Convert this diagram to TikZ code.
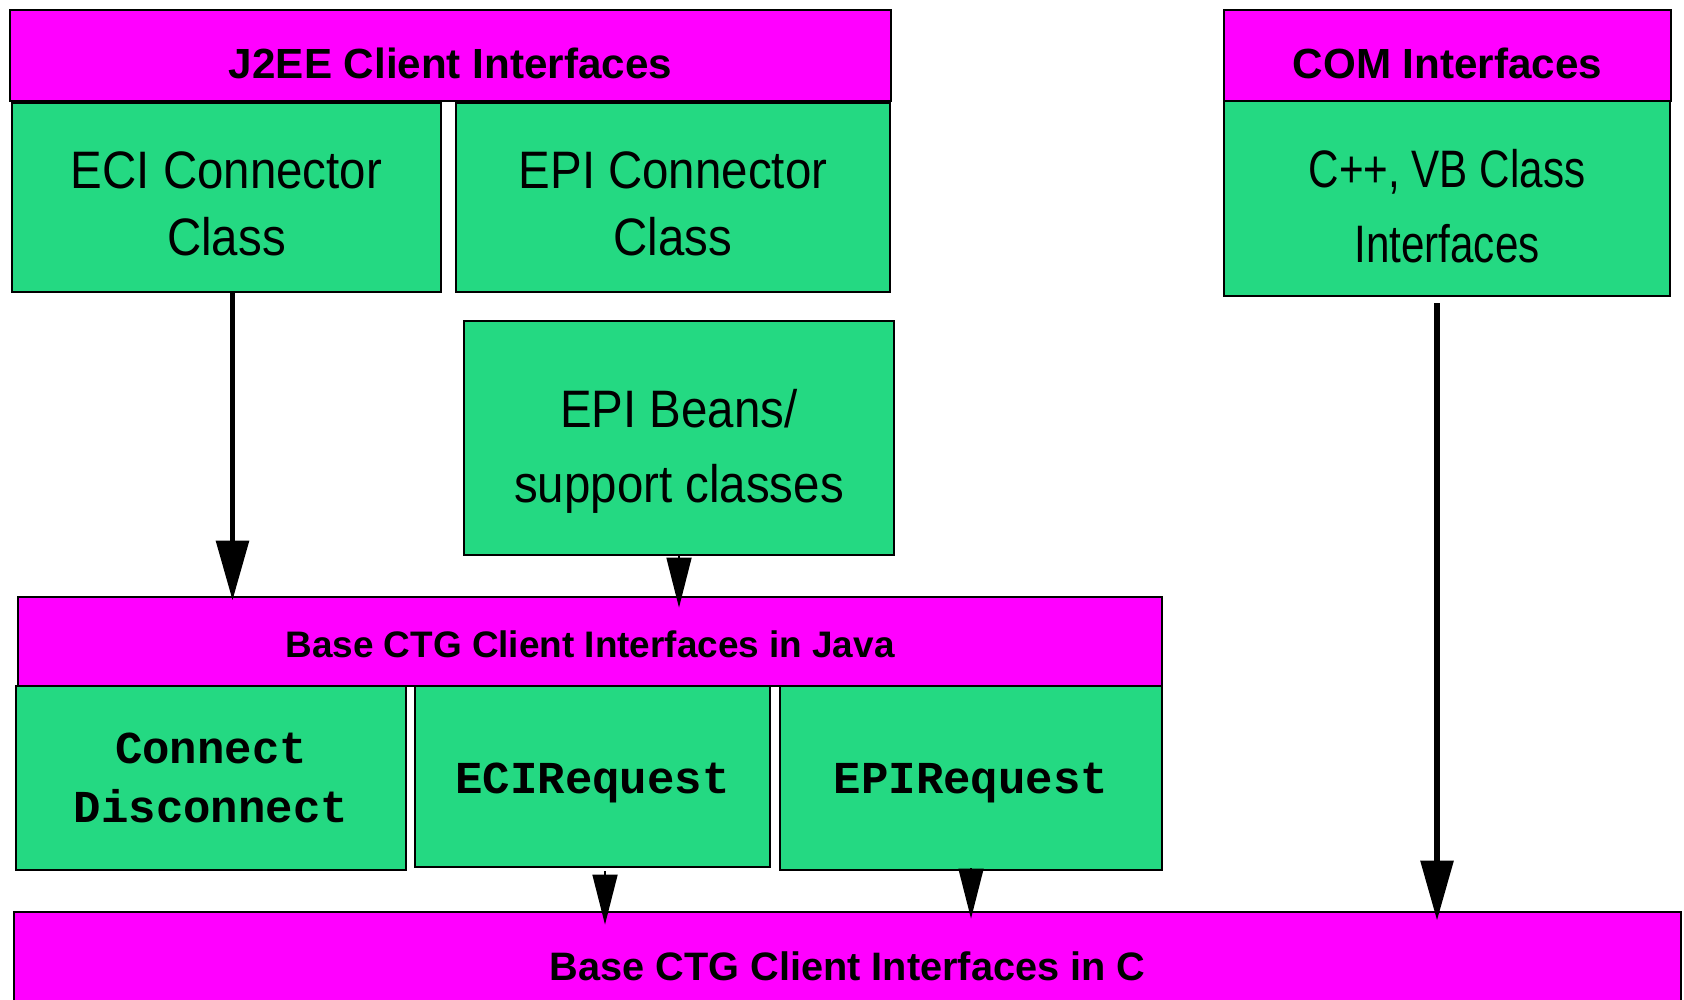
\documentclass[tikz,border=0pt]{standalone}
\usepackage{fontspec}
\setmainfont{Liberation Sans}
\newfontfamily\narrowfont[FakeStretch=0.9]{Liberation Sans}
\newfontfamily\condfont[FakeStretch=0.8]{Liberation Sans}
\newfontfamily\codefont{Liberation Mono}
\usetikzlibrary{arrows.meta}
\definecolor{hdrmagenta}{RGB}{255,0,255}
\definecolor{clsgreen}{RGB}{36,217,130}

\begin{document}
\begin{tikzpicture}[y=-1cm,
  hdr/.style={draw,line width=0.8pt,fill=hdrmagenta,inner sep=0pt,font=\bfseries\fontsize{12}{14}\selectfont},
  cls/.style={draw,line width=0.8pt,fill=clsgreen,inner sep=0pt,align=center},
  bigarrow/.style={-{Triangle[length=6mm 0 0,width=3.2mm 0 0]},line width=1.7pt},
  smallarrow/.style={-{Triangle[length=5mm 0 0,width=2.5mm 0 0]},line width=0.5pt}]
  \useasboundingbox (0,0) rectangle (16.84,10);

  \path
  (4.505,0.555)  node[hdr,minimum width=8.81cm,minimum height=0.91cm,text height=13.1pt,text depth=0pt](j2ee) {J2EE Client Interfaces}
  (2.265,1.975)  node[cls,minimum width=4.29cm,minimum height=1.89cm,text height=32.9pt,text depth=0pt,font=\narrowfont\fontsize{15}{19}\selectfont](eci) {ECI Connector\\Class}
  (6.73,1.975)   node[cls,minimum width=4.34cm,minimum height=1.89cm,text height=32.9pt,text depth=0pt,font=\narrowfont\fontsize{15}{19}\selectfont](epi) {EPI Connector\\Class}

  (14.475,0.555) node[hdr,minimum width=4.47cm,minimum height=0.91cm,text height=13.1pt,text depth=0pt](com) {COM Interfaces}
  (14.47,1.985)  node[cls,minimum width=4.46cm,minimum height=1.95cm,text height=36.5pt,text depth=0pt,font=\condfont\fontsize{15}{21.4}\selectfont](cpp) {C++, VB Class\\Interfaces}

  (6.79,4.38)    node[cls,minimum width=4.30cm,minimum height=2.34cm,text height=36.6pt,text depth=0pt,font=\narrowfont\fontsize{15}{21.4}\selectfont](beans) {EPI Beans/\\support classes}

  (5.90,6.415)   node[hdr,minimum width=11.44cm,minimum height=0.89cm,text height=9.1pt,text depth=0pt,font=\bfseries\fontsize{10.5}{12}\selectfont](java) {Base CTG Client Interfaces in Java}
  (2.11,7.78)    node[cls,minimum width=3.90cm,minimum height=1.84cm,font=\codefont\bfseries\fontsize{13}{17}\selectfont](conn) {Connect\\Disconnect}
  (5.925,7.765)  node[cls,minimum width=3.55cm,minimum height=1.81cm,text height=9.8pt,text depth=0pt,font=\codefont\bfseries\fontsize{13}{17}\selectfont](ecireq) {ECIRequest}
  (9.71,7.78)    node[cls,minimum width=3.82cm,minimum height=1.84cm,text height=9pt,text depth=0pt,font=\codefont\bfseries\fontsize{13}{17}\selectfont](epireq) {EPIRequest}

  (8.475,9.66)   node[hdr,minimum width=16.67cm,minimum height=1.08cm,font=\bfseries\fontsize{11.3}{13}\selectfont](cbase) {Base CTG Client Interfaces in C}
  ;

  \draw[bigarrow,shorten >=-0.05cm] ([xshift=0.06cm]eci.south) -- ([xshift=0.06cm]eci.south |- java.north);
  \draw[smallarrow,shorten >=-0.12cm] (beans.south) -- (beans.south |- java.north);
  \draw[smallarrow,shorten >=-0.14cm] ([xshift=0.125cm,yshift=-0.03cm]ecireq.south) -- ([xshift=0.125cm]ecireq.south |- cbase.north);
  \draw[smallarrow,shorten >=-0.08cm] ([yshift=0.03cm]epireq.south) -- (epireq.south |- cbase.north);
  \draw[bigarrow,shorten >=-0.1cm] ([xshift=-0.1cm,yshift=-0.06cm]cpp.south) -- ([xshift=-0.1cm]cpp.south |- cbase.north);

\end{tikzpicture}
\end{document}
